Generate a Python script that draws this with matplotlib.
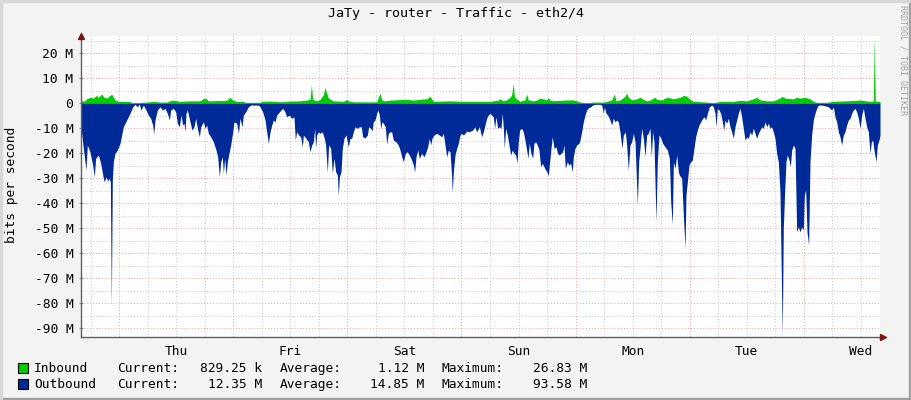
import numpy as np
import matplotlib
matplotlib.use('Agg')
import matplotlib.pyplot as plt
from matplotlib.ticker import FuncFormatter, MultipleLocator
from matplotlib.patches import Rectangle

# time axis: hours since Wed 16:00, one week
days = ['Thu', 'Fri', 'Sat', 'Sun', 'Mon', 'Tue', 'Wed']
first_midnight = 8

# inbound (M bit/s)
in_hours = [0.0, 0.84, 1.19, 1.89, 2.59, 3.30, 3.65, 4.35, 4.84, 5.40, 6.45, 6.80, 7.15, 7.85,
            10.30, 10.66, 13.81, 15.21, 16.61, 18.02, 18.72, 19.42, 20.12, 20.82, 22.92, 25.02,
            25.87, 26.43, 26.78, 30.63, 31.33, 31.89, 32.74, 34.14, 34.49, 37.64, 37.99, 39.75,
            41.85, 43.95, 46.06, 47.46, 48.16, 48.44, 48.72, 49.56, 50.26, 50.96, 51.31, 51.66,
            52.01, 53.06, 55.17, 55.87, 56.22, 57.27, 62.18, 62.88, 63.23, 63.93, 64.98, 68.49,
            69.89, 71.29, 72.69, 73.39, 73.74, 74.09, 77.60, 79.70, 83.90, 86.00, 87.75, 88.10,
            88.80, 89.50, 90.20, 90.55, 90.90, 91.11, 91.60, 92.30, 93.35, 93.70, 94.05, 95.11,
            95.81, 96.51, 97.21, 97.91, 98.26, 98.61, 99.31, 101.41, 103.52, 104.22, 104.92,
            106.32, 107.72, 109.83, 110.53, 111.58, 112.14, 112.49, 113.33, 114.38, 114.73,
            115.08, 115.79, 116.84, 117.54, 118.24, 118.94, 119.64, 120.34, 120.69, 121.04,
            122.09, 122.80, 123.50, 124.55, 125.95, 126.79, 127.35, 128.05, 128.75, 131.55,
            132.96, 134.36, 137.16, 138.56, 139.96, 141.37, 142.07, 142.77, 144.17, 145.57,
            146.97, 147.32, 148.02, 149.77, 150.48, 151.18, 152.23, 153.28, 153.98, 154.68,
            156.79, 158.19, 160.99, 163.80, 165.90, 166.60, 166.80, 167.00, 168.0]
in_mbps = [0.9, 0.9, 1.7, 2.3, 2.0, 3.1, 2.3, 3.6, 2.3, 2.0, 3.6, 2.3, 1.3, 0.7,
           0.7, 0.1, 0.4, 0.7, 0.4, 0.4, 0.9, 1.2, 0.9, 0.7, 0.9, 0.9,
           2.0, 1.7, 0.9, 1.1, 2.3, 1.2, 0.7, 0.7, 0.3, 0.3, 0.7, 0.8,
           0.5, 0.8, 0.9, 1.2, 1.5, 7.3, 1.5, 0.9, 1.5, 3.3, 6.3, 4.0,
           2.0, 0.9, 0.7, 1.5, 0.9, 0.5, 0.5, 4.0, 1.3, 0.9, 1.2, 1.5,
           1.2, 1.5, 1.7, 2.7, 1.7, 0.7, 0.9, 0.7, 0.7, 0.7, 1.2, 1.7,
           0.9, 1.3, 2.3, 3.3, 8.0, 2.7, 1.7, 0.7, 1.3, 3.6, 1.3, 0.9,
           1.2, 2.0, 1.7, 1.2, 2.3, 1.2, 0.9, 1.2, 1.3, 0.9, 0.4,
           0.1, 0.4, 0.4, 0.7, 1.2, 3.6, 0.9, 1.2, 2.7, 4.0,
           2.3, 1.3, 1.7, 2.3, 1.5, 0.9, 1.2, 2.0, 2.3, 1.5,
           1.2, 2.0, 2.3, 1.7, 2.3, 3.1, 2.7, 1.5, 0.7, 0.4,
           0.1, 0.7, 0.7, 1.1, 0.9, 1.7, 2.3, 1.3, 0.9, 0.9,
           2.0, 2.7, 2.0, 1.7, 2.3, 2.0, 2.3, 1.7, 0.7, 0.3,
           0.3, 0.7, 0.9, 1.2, 0.7, 0.8, 26.83, 0.8, 0.7]

# outbound (M bit/s, drawn below zero)
out_hours = [0.0, 0.14, 0.49, 0.84, 1.05, 1.33, 1.89, 2.45, 2.80, 3.08, 3.65, 4.14, 4.70, 4.91,
             5.26, 5.61, 5.89, 6.17, 6.38, 6.59, 6.80, 7.15, 7.64, 8.20, 8.55, 8.90, 9.60,
             10.30, 10.87, 11.36, 11.85, 12.27, 12.62, 13.11, 13.67, 14.16, 14.65, 15.07, 15.28,
             15.56, 16.05, 16.61, 17.17, 17.66, 18.15, 18.58, 18.86, 19.42, 19.91, 20.26, 20.68,
             21.03, 21.38, 21.66, 21.87, 22.08, 22.36, 22.92, 23.34, 23.76, 24.11, 24.47, 24.89,
             25.17, 25.73, 26.08, 26.43, 26.78, 27.27, 27.83, 28.39, 28.74, 29.09, 29.37, 29.72,
             29.93, 30.21, 30.49, 30.77, 31.12, 31.47, 31.90, 32.18, 32.74, 33.09, 33.44, 33.86,
             34.14, 34.63, 35.19, 35.68, 36.59, 37.29, 37.64, 38.20, 38.70, 39.05, 39.40, 39.75,
             40.10, 40.45, 40.80, 41.15, 41.71,
             42.40, 42.89, 43.24, 43.80, 44.29, 44.78, 45.06, 45.35, 45.77, 46.19, 46.54, 46.75,
             47.31, 47.80, 48.15, 48.50, 48.85, 49.13, 49.34, 49.55, 49.90, 50.25, 50.74, 51.16,
             51.44, 51.79, 52.07, 52.50, 52.85, 53.20, 53.55, 53.90, 54.11, 54.32, 54.67, 54.95,
             55.30, 55.72, 56.21, 56.56, 56.91, 57.26, 57.61, 58.10, 58.52, 58.94, 59.22, 59.72,
             60.21, 60.49, 60.91, 61.19, 61.47, 61.82, 62.17, 62.45, 62.73, 63.01, 63.29, 63.57,
             63.99, 64.27, 64.62, 64.97, 65.32, 65.67, 66.23, 66.73, 67.08, 67.43, 67.78, 68.20,
             68.62, 69.04, 69.53, 69.88, 70.16, 70.44, 70.79, 71.14, 71.63, 72.12, 72.54, 72.89,
             73.24, 73.52, 73.80, 74.22, 74.79, 75.35, 75.84, 76.19, 76.54, 76.89, 77.24, 77.59,
             77.87, 78.08, 78.29, 78.64, 78.99, 79.34, 79.69, 80.04, 80.39, 80.74, 81.09, 81.44,
             81.94, 82.36, 82.78, 83.20, 83.76,
             84.24, 84.59, 84.94, 85.29, 85.64, 85.99, 86.34, 86.69, 86.97, 87.25, 87.60, 87.95,
             88.30, 88.59, 88.80, 89.01, 89.29, 89.64, 90.06, 90.34, 90.69, 91.04, 91.39, 91.67,
             91.95, 92.23, 92.65, 93.00, 93.35, 93.70, 93.98, 94.26, 94.61, 94.96, 95.24, 95.60,
             95.95, 96.30, 96.65, 97.00, 97.35, 97.70, 97.98, 98.26, 98.54, 98.82, 99.10, 99.45,
             99.87, 100.22, 100.57, 100.92, 101.27, 101.55, 101.83, 102.25, 102.60, 102.95,
             103.30, 103.52, 103.87, 104.22, 104.71, 104.92, 105.27, 105.62, 105.97, 106.32,
             106.67, 107.16, 107.58, 108.07, 108.56, 109.13, 109.48, 109.83, 110.04, 110.39,
             110.74, 111.23, 111.58, 111.93, 112.28, 112.63, 112.98, 113.33, 113.75, 114.03,
             114.45, 114.73, 115.08, 115.43, 115.79, 116.14, 116.49, 116.98, 117.26, 117.54,
             117.89, 118.24, 118.59, 118.94, 119.29, 119.64, 119.92, 120.20, 120.48, 120.90,
             121.18, 121.53, 121.95, 122.30, 122.80, 123.29, 123.71, 123.99, 124.34, 124.55,
             124.90, 125.25, 125.60, 125.81,
             126.30, 126.65, 127.00, 127.21, 127.49, 127.84, 128.19, 128.54, 128.89, 129.24,
             129.59, 129.94, 130.29, 130.72, 131.07, 131.35, 131.70, 132.12, 132.61, 132.96,
             133.31, 133.52, 133.80, 134.15, 134.50, 134.85, 135.13, 135.41, 135.76, 136.11,
             136.46, 136.81, 137.16, 137.51, 137.86, 138.21, 138.56, 138.91, 139.26, 139.62,
             139.97, 140.32, 140.67, 141.02, 141.37, 141.72, 142.07, 142.42, 142.77, 143.12,
             143.47, 143.82, 144.17, 144.52, 144.87, 145.22, 145.57, 145.92, 146.27, 146.62,
             146.97, 147.25, 147.46, 147.67, 147.95, 148.23, 148.52, 148.87, 149.15, 149.43,
             149.78, 150.13, 150.48, 150.83, 151.18, 151.53, 151.88, 152.09, 152.37, 152.65,
             153.00, 153.28, 153.63, 153.98, 154.33, 154.68, 155.03, 155.74, 156.44, 157.14,
             157.49, 157.84, 158.19, 158.54, 158.89, 159.24, 159.59, 159.94, 160.29, 160.64,
             160.99, 161.34, 161.69, 162.04, 162.39, 162.74, 163.10, 163.45, 163.80, 164.15,
             164.50, 164.85, 165.20, 165.55, 165.90, 166.18, 166.46, 166.74, 167.16, 167.44,
             167.79, 168.0]
out_mbps = [12.1, 12.1, 18.1, 23.5, 26.8, 16.8, 19.5, 24.8, 29.5, 22.1, 20.8, 24.1, 30.1, 31.5,
            29.5, 31.2, 30.1, 31.5, 81.1, 30.8, 23.5, 20.1, 18.8, 16.1, 12.8, 9.5, 6.8,
            4.1, 1.5, 0.5, 1.5, 0.4, 2.8, 0.8, 2.8, 4.8, 6.1, 8.8, 12.5,
            6.8, 2.8, 1.5, 2.8, 2.1, 4.1, 6.8, 2.8, 2.1, 3.5, 8.1, 9.5,
            4.8, 8.8, 8.1, 11.5, 4.1, 2.8, 7.5, 10.8, 9.5, 6.1, 10.1, 13.5,
            9.5, 7.5, 10.1, 8.8, 12.1, 13.5, 15.5, 18.8, 21.5, 29.5, 23.5, 21.5,
            28.1, 22.1, 28.8, 23.5, 20.1, 16.8, 11.5, 7.5, 8.1, 12.1, 6.1, 9.5,
            4.8, 3.5, 1.5, 0.8, 0.8, 0.8, 1.5, 3.5, 6.8, 11.5, 16.1, 11.5,
            8.8, 6.8, 7.5, 4.8, 3.5,
            2.1, 3.5, 5.5, 4.8, 6.1, 5.5, 14.8, 11.5, 12.8, 13.5, 17.5, 12.8,
            14.1, 15.5, 19.5, 16.8, 15.5, 10.1, 17.9, 12.8, 11.5, 12.1, 11.5, 14.1,
            16.8, 27.7, 16.8, 18.1, 28.1, 22.1, 27.5, 28.8, 37.1, 29.5, 27.5, 18.1,
            14.1, 12.8, 17.5, 14.1, 14.1, 11.5, 9.5, 10.1, 9.5, 9.5, 13.5, 13.9,
            12.8, 9.5, 10.1, 11.2, 7.5, 6.8, 4.1, 2.8, 4.8, 10.1, 7.5, 8.1,
            9.5, 16.5, 12.1, 11.5, 11.5, 14.8, 15.5, 16.8, 18.8, 21.5, 23.5, 20.1,
            19.5, 20.8, 22.8, 24.8, 27.5, 21.5, 18.8, 22.1, 20.1, 21.5, 19.5, 17.5,
            14.1, 16.8, 14.1, 12.8, 12.1, 12.8, 13.5, 12.1, 16.8, 21.5, 18.8, 19.5,
            27.5, 35.7, 27.5, 20.8, 18.1, 16.1, 12.8, 12.1, 12.8, 12.1, 11.2, 11.5,
            11.2, 10.8, 9.5, 11.5, 9.5,
            13.5, 11.5, 8.8, 6.1, 4.8, 4.1, 4.8, 5.5, 10.1, 5.5, 10.1, 9.5,
            10.1, 4.1, 10.1, 18.1, 10.1, 12.8, 17.5, 20.8, 18.8, 20.1, 20.8, 24.1,
            15.5, 10.8, 10.1, 11.5, 14.8, 18.8, 22.1, 16.1, 20.1, 22.1, 16.1, 15.5,
            16.8, 18.8, 25.5, 24.1, 25.5, 26.8, 27.5, 29.1, 23.5, 18.1, 13.5, 18.1,
            17.5, 20.1, 20.8, 20.1, 19.5, 16.8, 26.1, 23.5, 24.8, 24.1,
            27.5, 21.5, 18.1, 16.8, 16.1, 14.8, 11.5, 7.5, 4.8, 2.8,
            1.9, 1.5, 0.8, 0.5, 0.5, 0.5, 0.8, 4.1, 1.5, 4.1,
            4.8, 6.8, 8.8, 6.1, 7.5, 6.8, 7.5, 11.5, 18.1, 12.8,
            11.5, 16.8, 26.8, 16.8, 15.5, 12.1, 15.5, 40.8, 23.5, 18.1,
            10.1, 14.1, 21.5, 12.8, 12.1, 10.1, 21.5, 11.5, 15.5, 47.5,
            23.5, 12.8, 14.1, 16.1, 17.5, 18.8, 22.1, 39.5, 48.5, 23.5,
            26.1, 20.8, 27.5, 28.8,
            30.1, 44.8, 58.1, 36.8, 31.5, 24.8, 23.5, 22.8, 18.1, 13.5,
            10.8, 8.8, 7.5, 6.1, 5.5, 6.8, 4.1, 1.5, 0.8, 1.5,
            4.1, 9.5, 2.1, 2.8, 4.1, 7.5, 10.8, 6.8, 8.1, 6.1,
            9.5, 11.5, 14.1, 9.5, 6.8, 4.1, 2.1, 5.5, 10.1, 14.8,
            13.5, 14.1, 11.5, 12.8, 10.1, 12.1, 14.1, 12.1, 10.8, 9.5,
            10.1, 7.5, 9.5, 8.1, 10.1, 9.5, 11.5, 14.1, 20.1, 23.5,
            35.5, 68.8, 93.1, 50.1, 35.5, 23.5, 20.8, 22.8, 25.5, 18.8,
            16.8, 18.1, 51.5, 49.5, 51.5, 49.5, 50.8, 36.8, 34.8, 51.5,
            56.8, 23.5, 12.8, 6.8, 4.1, 2.1, 0.8, 0.8, 1.1, 1.5,
            2.1, 2.8, 1.5, 5.5, 7.5, 11.5, 13.5, 16.8, 12.8, 11.5,
            8.8, 6.8, 6.1, 4.1, 2.8, 2.1, 3.5, 6.1, 10.1, 4.8,
            2.1, 6.1, 9.5, 11.5, 20.1, 15.5, 14.8, 18.8, 23.5, 16.8,
            14.8, 12.8]

legend_names = ['Inbound', 'Outbound']
legend_colors = ['#00CC00', '#002A97']
cur_vals = ['829.25 k', '12.35 M']
avg_vals = ['1.12 M', '14.85 M']
max_vals = ['26.83 M', '93.58 M']

W, H = 911, 400
mono = 'DejaVu Sans Mono'
plt.rcParams['font.family'] = mono
fs = 9.3

fig = plt.figure(figsize=(W / 100, H / 100), dpi=100, facecolor='#F3F3F3')
ax = fig.add_axes([81 / W, 1 - 337 / H, 799 / W, 301 / H])
ax.set_facecolor('white')

ax.fill_between(in_hours, in_mbps, 0, color=legend_colors[0], lw=0, zorder=3)
ax.fill_between(out_hours, -np.array(out_mbps), 0, color=legend_colors[1], lw=0, zorder=3)

ax.set_xlim(0, 168)
ax.set_ylim(-93.58, 26.83)

# grid (rrdtool style dotted)
dot = (0, (1, 2))
for y in np.arange(-90, 30, 5):
    if y % 10 == 0:
        ax.axhline(y, color='#E8A0A0', lw=0.7, ls=dot, zorder=1)
    else:
        ax.axhline(y, color='#C8C8C8', lw=0.7, ls=dot, zorder=1)
for hh in np.arange(first_midnight - 6, 168, 6):
    if (hh - first_midnight) % 24 == 0:
        ax.axvline(hh, color='#E8A0A0', lw=0.7, ls=dot, zorder=1)
    else:
        ax.axvline(hh, color='#C8C8C8', lw=0.7, ls=dot, zorder=1)

ax.yaxis.set_major_locator(MultipleLocator(10))
ax.yaxis.set_major_formatter(FuncFormatter(lambda v, p: '0' if abs(v) < 1e-9 else '%d M' % v))
noon = [first_midnight + 12 + 24 * i for i in range(len(days))]
ax.set_xticks(noon)
ax.set_xticklabels(days)
ax.tick_params(axis='x', length=0, pad=6, labelsize=fs, colors='black')
ax.tick_params(axis='y', length=3, direction='inout', color='#909090', pad=4, labelsize=fs)

for s in ['top', 'right']:
    ax.spines[s].set_visible(False)
for s in ['left', 'bottom']:
    ax.spines[s].set_color('#606060')
    ax.spines[s].set_linewidth(1.0)
    ax.spines[s].set_zorder(5)

# axis arrows
ax.plot([0], [1.0], marker='^', ms=4, color='#7F1010', transform=ax.transAxes, clip_on=False, zorder=6)
ax.plot([1.004], [0], marker='>', ms=4, color='#7F1010', transform=ax.transAxes, clip_on=False, zorder=6)

fig.text(12 / W, 1 - 185 / H, 'bits per second', rotation=90, ha='center', va='center', fontsize=fs)
fig.text(0.5, 1 - 14 / H, 'JaTy - router - Traffic - eth2/4', ha='center', va='center', fontsize=9.6)
fig.text(903 / W, 1 - 5 / H, 'RRDTOOL / TOBI OETIKER', rotation=270, ha='center', va='top',
         fontsize=6, color='#A0A0A0')

# legend
rows = [372, 388]
for i in range(2):
    yy = 1 - rows[i] / H
    fig.patches.append(Rectangle((18 / W, yy - 1 / H), 10 / W, 10 / H, transform=fig.transFigure,
                                 facecolor=legend_colors[i], edgecolor='black', lw=0.8))
    fig.text(34 / W, yy, legend_names[i], va='baseline', fontsize=fs)
    fig.text(117 / W, yy, 'Current:', va='baseline', fontsize=fs)
    fig.text(262 / W, yy, cur_vals[i], va='baseline', ha='right', fontsize=fs)
    fig.text(280 / W, yy, 'Average:', va='baseline', fontsize=fs)
    fig.text(424 / W, yy, avg_vals[i], va='baseline', ha='right', fontsize=fs)
    fig.text(442 / W, yy, 'Maximum:', va='baseline', fontsize=fs)
    fig.text(587 / W, yy, max_vals[i], va='baseline', ha='right', fontsize=fs)

# frame shading
fig.patches.append(Rectangle((0, 0), 1, 2 / H, transform=fig.transFigure, color='#A0A0A0'))
fig.patches.append(Rectangle((1 - 2 / W, 0), 2 / W, 1, transform=fig.transFigure, color='#A0A0A0'))
fig.patches.append(Rectangle((0, 1 - 2 / H), 1, 2 / H, transform=fig.transFigure, color='#D8D8D8'))
fig.patches.append(Rectangle((0, 0), 2 / W, 1, transform=fig.transFigure, color='#D8D8D8'))

fig.savefig('out.png', dpi=100, facecolor=fig.get_facecolor())
